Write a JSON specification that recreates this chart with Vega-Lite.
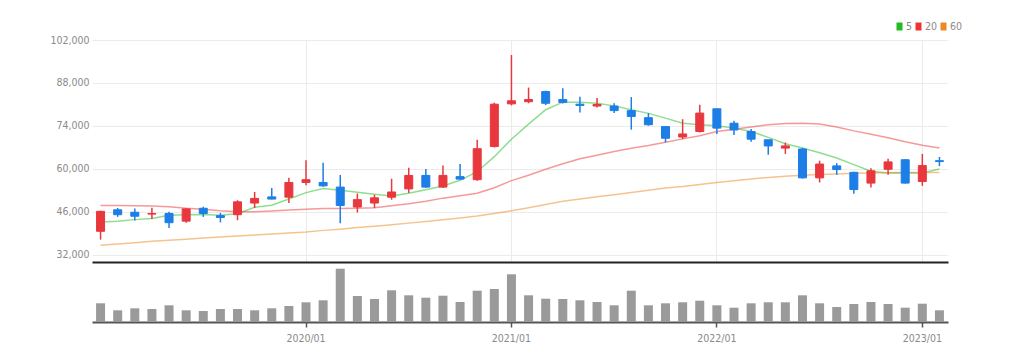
{
  "$schema": "https://vega.github.io/schema/vega-lite/v6.json",
  "padding": {"left": 5, "top": 21, "right": 5, "bottom": 5},
  "background": "white",
  "spacing": 0,
  "config": {
    "view": {"stroke": null},
    "font": "Liberation Sans Narrow, DejaVu Sans Condensed, sans-serif",
    "axis": {"labelFont": "Liberation Sans Narrow, DejaVu Sans Condensed, sans-serif", "title": null},
    "legend": {"labelFont": "Liberation Sans Narrow, DejaVu Sans Condensed, sans-serif"}
  },
  "data": {"values": [
    {"d":"2019/01","o":39700,"h":46400,"l":37000,"c":46200,"5":42750,"20":48100,"60":35150,"v":18.7},
    {"d":"2019/02","o":46700,"h":47300,"l":44400,"c":45100,"5":43000,"20":48100,"60":35570,"v":11.7},
    {"d":"2019/03","o":45900,"h":47100,"l":43200,"c":44600,"5":43500,"20":48000,"60":36000,"v":13.7},
    {"d":"2019/04","o":45300,"h":47400,"l":43700,"c":45500,"5":43900,"20":47900,"60":36420,"v":13},
    {"d":"2019/05","o":45500,"h":46100,"l":40800,"c":42500,"5":44900,"20":47700,"60":36800,"v":16.7},
    {"d":"2019/06","o":43000,"h":47200,"l":42500,"c":47000,"5":45100,"20":47200,"60":37130,"v":11.7},
    {"d":"2019/07","o":47200,"h":47700,"l":44400,"c":45500,"5":45200,"20":46900,"60":37490,"v":11},
    {"d":"2019/08","o":44800,"h":45700,"l":42600,"c":44200,"5":44900,"20":46400,"60":37810,"v":13},
    {"d":"2019/09","o":45100,"h":49800,"l":43300,"c":49300,"5":45450,"20":46100,"60":38170,"v":13},
    {"d":"2019/10","o":48900,"h":52500,"l":47300,"c":50400,"5":47500,"20":46100,"60":38500,"v":11.7},
    {"d":"2019/11","o":50900,"h":53800,"l":50100,"c":50200,"5":48200,"20":46300,"60":38850,"v":13.7},
    {"d":"2019/12","o":50800,"h":57100,"l":48900,"c":55600,"5":50200,"20":46600,"60":39180,"v":16},
    {"d":"2020/01","o":55600,"h":62800,"l":54700,"c":56500,"5":52300,"20":46900,"60":39500,"v":19.7},
    {"d":"2020/02","o":55600,"h":62000,"l":54200,"c":54500,"5":53600,"20":47100,"60":40000,"v":21.7},
    {"d":"2020/03","o":54100,"h":58000,"l":42300,"c":48100,"5":53100,"20":47100,"60":40400,"v":53.3},
    {"d":"2020/04","o":47600,"h":52000,"l":45800,"c":50000,"5":52400,"20":47200,"60":40900,"v":26},
    {"d":"2020/05","o":48900,"h":51600,"l":47300,"c":50600,"5":51800,"20":47400,"60":41350,"v":23},
    {"d":"2020/06","o":50800,"h":56800,"l":50000,"c":52500,"5":51200,"20":48050,"60":41870,"v":31.7},
    {"d":"2020/07","o":53500,"h":60400,"l":52200,"c":57900,"5":52100,"20":48700,"60":42360,"v":26.7},
    {"d":"2020/08","o":57900,"h":60000,"l":53800,"c":54100,"5":53250,"20":49500,"60":42850,"v":24.3},
    {"d":"2020/09","o":54100,"h":61100,"l":53800,"c":57900,"5":54450,"20":50500,"60":43430,"v":26.3},
    {"d":"2020/10","o":57500,"h":61600,"l":56500,"c":56700,"5":56300,"20":51300,"60":44050,"v":20},
    {"d":"2020/11","o":56500,"h":69500,"l":56200,"c":66600,"5":59100,"20":52100,"60":44670,"v":31.3},
    {"d":"2020/12","o":67300,"h":81600,"l":67000,"c":81100,"5":64000,"20":53900,"60":45520,"v":33},
    {"d":"2021/01","o":81200,"h":97100,"l":80700,"c":82200,"5":69700,"20":56200,"60":46420,"v":47.7},
    {"d":"2021/02","o":81900,"h":86500,"l":81400,"c":82600,"5":74600,"20":57950,"60":47400,"v":26.7},
    {"d":"2021/03","o":85200,"h":85500,"l":80800,"c":81400,"5":79300,"20":59900,"60":48440,"v":23.3},
    {"d":"2021/04","o":82600,"h":86300,"l":81300,"c":81700,"5":81750,"20":61700,"60":49450,"v":23},
    {"d":"2021/05","o":81100,"h":83500,"l":78400,"c":80700,"5":81700,"20":63300,"60":50200,"v":21.7},
    {"d":"2021/06","o":80500,"h":83100,"l":80000,"c":81000,"5":81400,"20":64500,"60":50940,"v":20},
    {"d":"2021/07","o":80500,"h":81400,"l":78200,"c":79000,"5":80550,"20":65700,"60":51630,"v":16.7},
    {"d":"2021/08","o":79000,"h":83400,"l":72800,"c":77100,"5":79250,"20":66750,"60":52370,"v":31.3},
    {"d":"2021/09","o":76700,"h":78200,"l":74100,"c":74400,"5":78100,"20":67650,"60":53090,"v":16.7},
    {"d":"2021/10","o":73800,"h":73800,"l":68600,"c":70000,"5":76550,"20":68700,"60":53770,"v":18.7},
    {"d":"2021/11","o":70400,"h":76200,"l":69700,"c":71400,"5":74900,"20":69800,"60":54290,"v":19.7},
    {"d":"2021/12","o":72200,"h":80900,"l":71900,"c":78200,"5":74400,"20":70800,"60":54940,"v":21.3},
    {"d":"2022/01","o":79600,"h":79600,"l":71400,"c":73300,"5":74050,"20":72200,"60":55620,"v":16.7},
    {"d":"2022/02","o":74900,"h":75700,"l":71100,"c":72700,"5":73300,"20":72900,"60":56200,"v":14.3},
    {"d":"2022/03","o":72200,"h":73000,"l":68900,"c":69700,"5":72200,"20":73700,"60":56760,"v":18.7},
    {"d":"2022/04","o":69500,"h":69500,"l":64600,"c":67500,"5":70300,"20":74400,"60":57210,"v":19.7},
    {"d":"2022/05","o":66800,"h":68600,"l":64900,"c":67500,"5":68200,"20":74800,"60":57600,"v":19.7},
    {"d":"2022/06","o":66500,"h":66900,"l":56900,"c":57100,"5":66800,"20":74900,"60":57930,"v":26.7},
    {"d":"2022/07","o":57100,"h":62700,"l":55600,"c":61600,"5":65300,"20":74650,"60":58160,"v":18.7},
    {"d":"2022/08","o":61000,"h":61900,"l":58100,"c":59800,"5":63550,"20":73700,"60":58390,"v":15},
    {"d":"2022/09","o":58900,"h":59100,"l":51900,"c":53300,"5":61400,"20":72400,"60":58580,"v":18},
    {"d":"2022/10","o":55400,"h":60200,"l":54000,"c":59400,"5":59260,"20":71300,"60":58710,"v":20},
    {"d":"2022/11","o":59900,"h":63300,"l":58100,"c":62300,"5":58680,"20":70150,"60":58780,"v":18},
    {"d":"2022/12","o":63000,"h":63200,"l":55300,"c":55400,"5":58800,"20":68850,"60":58810,"v":14.3},
    {"d":"2023/01","o":55900,"h":64900,"l":54500,"c":61100,"5":58700,"20":67700,"60":58840,"v":18.3},
    {"d":"2023/02","o":62700,"h":63900,"l":60900,"c":62400,"5":60000,"20":66800,"60":58870,"v":11.7}
  ]},
  "vconcat": [
    {
      "width": 856,
      "height": 222,
      "encoding": {
        "x": {
          "field": "d", "type": "ordinal", "sort": "ascending",
          "scale": {"paddingInner": 0, "paddingOuter": 0},
          "axis": {
            "values": ["2020/01", "2021/01", "2022/01", "2023/01"],
            "labels": false, "ticks": false,
            "domain": true, "domainColor": "#222222", "domainWidth": 2,
            "grid": true, "gridColor": "#ebebeb", "gridWidth": 1,
            "bandPosition": 0.5, "title": null, "minExtent": 0, "maxExtent": 0
          }
        }
      },
      "layer": [
        {
          "transform": [{"fold": ["5", "20", "60"], "as": ["k", "val"]}],
          "mark": {"type": "line", "strokeWidth": 1.5, "opacity": 0.5},
          "encoding": {
            "y": {
              "field": "val", "type": "quantitative",
              "scale": {"domain": [29700, 102000], "zero": false, "nice": false},
              "axis": {
                "values": [32000, 46000, 60000, 74000, 88000, 102000],
                "format": ",d", "labelColor": "#8a8a8a", "labelFontSize": 10.5,
                "ticks": false, "domain": false, "labelPadding": 3,
                "grid": true, "gridColor": "#ebebeb",
                "minExtent": 87, "maxExtent": 87, "title": null
              }
            },
            "color": {
              "field": "k", "type": "nominal",
              "scale": {"domain": ["5", "20", "60"], "range": ["#22bb22", "#ee3333", "#ee8822"]},
              "legend": {
                "orient": "none", "legendX": 802, "legendY": -19,
                "direction": "horizontal", "title": null, "padding": 0,
                "labelColor": "#8a8a8a", "labelFontSize": 10.5, "labelOffset": 1,
                "columnPadding": -7, "gridAlign": "none",
                "symbolType": "M0,-1.6V1.6", "symbolSize": 25, "symbolStrokeWidth": 6,
                "symbolOpacity": 1
              }
            }
          }
        },
        {
          "mark": {"type": "rule", "strokeWidth": 1.5},
          "encoding": {
            "y": {"field": "l", "type": "quantitative"},
            "y2": {"field": "h"},
            "color": {"condition": {"test": "datum.c >= datum.o", "value": "#e8383d"}, "value": "#1c7ee6"}
          }
        },
        {
          "mark": {"type": "bar", "size": 8, "strokeWidth": 1},
          "encoding": {
            "y": {"field": "o", "type": "quantitative"},
            "y2": {"field": "c"},
            "color": {"condition": {"test": "datum.c >= datum.o", "value": "#e8383d"}, "value": "#1c7ee6"},
            "stroke": {"condition": {"test": "datum.c >= datum.o", "value": "#e8383d"}, "value": "#1c7ee6"}
          }
        }
      ]
    },
    {
      "width": 856,
      "height": 60,
      "mark": {"type": "bar", "size": 9, "color": "#9a9a9a"},
      "encoding": {
        "x": {
          "field": "d", "type": "ordinal", "sort": "ascending",
          "scale": {"paddingInner": 0, "paddingOuter": 0},
          "axis": {
            "values": ["2020/01", "2021/01", "2022/01", "2023/01"],
            "labelAngle": 0, "domainColor": "#555555", "domainWidth": 2,
            "tickColor": "#555555", "tickSize": 5, "tickWidth": 1.5,
            "labelColor": "#8a8a8a", "labelFontSize": 10.5, "labelPadding": 6,
            "bandPosition": 0.5, "grid": false, "title": null
          }
        },
        "y": {
          "field": "v", "type": "quantitative",
          "scale": {"domain": [0, 60], "nice": false},
          "axis": {"labels": false, "ticks": false, "domain": false, "grid": false, "title": null, "minExtent": 87, "maxExtent": 87}
        }
      }
    }
  ]
}
